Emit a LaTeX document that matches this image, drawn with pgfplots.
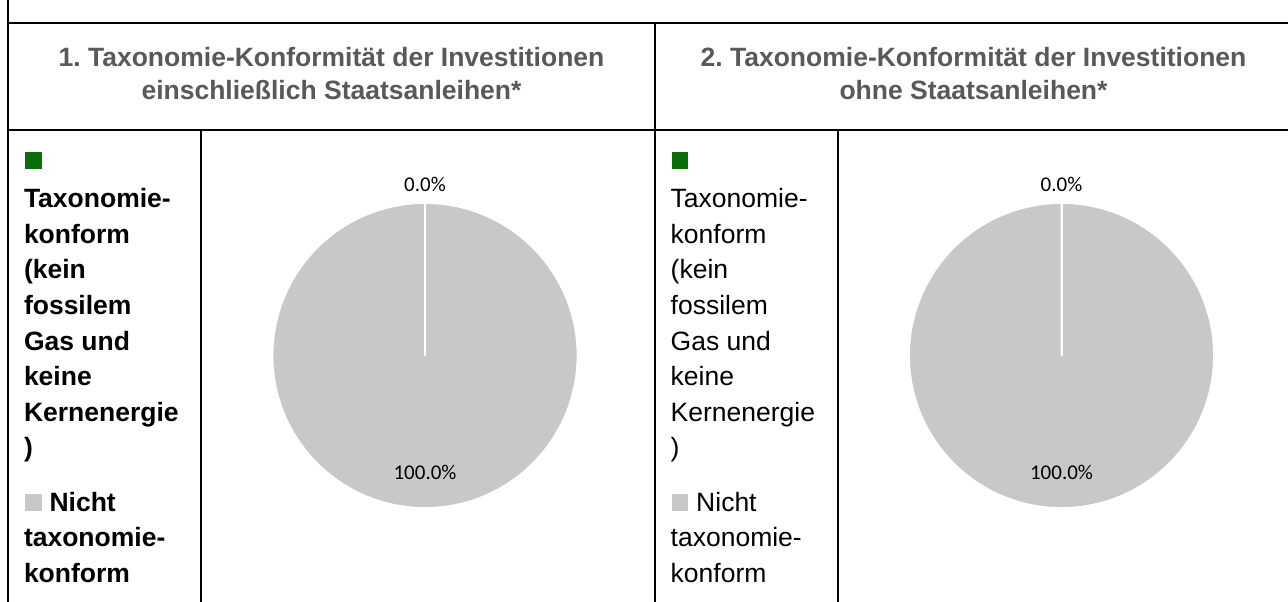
\documentclass[border=0pt]{standalone}
\usepackage{pgfplots}
\pgfplotsset{compat=1.18}
\usepackage{pgfplotstable}
\usetikzlibrary{calc}
\usepackage{fontspec}
\setmainfont{Liberation Sans}
\newfontfamily\carlito{Carlito}
\definecolor{titlegray}{HTML}{595959}
\definecolor{piegray}{HTML}{C8C8C8}
\definecolor{taxgreen}{HTML}{0B6E0B}
\frenchspacing

% shares of the two pies (percent)
\pgfplotstableread{
slice value
konform 0.0
nicht 100.0
}\pieone
\pgfplotstableread{
slice value
konform 0.0
nicht 100.0
}\pietwo
\pgfplotstablegetelem{0}{value}\of\pieone \edef\oneA{\pgfplotsretval}
\pgfplotstablegetelem{1}{value}\of\pieone \edef\oneB{\pgfplotsretval}
\pgfplotstablegetelem{0}{value}\of\pietwo \edef\twoA{\pgfplotsretval}
\pgfplotstablegetelem{1}{value}\of\pietwo \edef\twoB{\pgfplotsretval}

\def\pierad{114.45pt}
\newcommand{\pctlabel}[4]{% cx, cy, mid angle, value
  \pgfmathsetmacro\ldist{#4<5 ? 122.85 : 92.85}
  \node[anchor=base, inner sep=0, font=\carlito\fontsize{15.75pt}{18pt}\selectfont]
    at ($(axis cs:#1,#2)+(#3:\ldist pt)$)
    {\pgfmathprintnumber[assume math mode=true,fixed,fixed zerofill,precision=1]{#4}\%};
}
\newcommand{\pie}[4]{% cx, cy, value 1, value 2
  \pgfmathsetmacro\eA{90-3.6*#3}
  \pgfmathsetmacro\eB{\eA-3.6*#4}
  \pgfmathsetmacro\mA{90-1.8*#3}
  \pgfmathsetmacro\mB{\eA-1.8*#4}
  \fill[taxgreen] (axis cs:#1,#2) -- ++(90:\pierad) arc[start angle=90, end angle=\eA, radius=\pierad] -- cycle;
  \fill[piegray] (axis cs:#1,#2) -- ++(\eA:\pierad) arc[start angle=\eA, end angle=\eB, radius=\pierad] -- cycle;
  \draw[white, line width=1.5pt] (axis cs:#1,#2) -- ++(90:\pierad) arc[start angle=90, end angle=\eA, radius=\pierad] -- cycle;
  \draw[white, line width=1.5pt] (axis cs:#1,#2) -- ++(\eA:\pierad) arc[start angle=\eA, end angle=\eB, radius=\pierad] -- cycle;
  \pctlabel{#1}{#2}{\mA}{#3}
  \pctlabel{#1}{#2}{\mB}{#4}
}

\newcommand{\legsize}{\fontsize{19.875pt}{24pt}\selectfont}
\newcommand{\legendcol}[3]{% text x, square x, font
  \node[lbl] at (#2,169) {\textcolor{taxgreen}{\rule{12.4pt}{12.4pt}}};
  \node[lbl,font=\legsize#3] at (#1,208) {Taxonomie-};
  \node[lbl,font=\legsize#3] at (#1,243.5) {konform};
  \node[lbl,font=\legsize#3] at (#1,279) {(kein};
  \node[lbl,font=\legsize#3] at (#1,314.5) {fossilem};
  \node[lbl,font=\legsize#3] at (#1,350) {Gas und};
  \node[lbl,font=\legsize#3] at (#1,385.5) {keine};
  \node[lbl,font=\legsize#3] at (#1,421) {Kernenergie};
  \node[lbl,font=\legsize#3] at (#1,456.5) {)};
  \node[lbl,font=\legsize#3] at (#2,511) {\textcolor{piegray}{\rule{12.4pt}{12.4pt}}\hspace{6pt}Nicht};
  \node[lbl,font=\legsize#3] at (#1,546.5) {taxonomie-};
  \node[lbl,font=\legsize#3] at (#1,582) {konform};
}

\begin{document}
\begin{tikzpicture}[x=0.75pt, y=-0.75pt,
  lbl/.style={anchor=base west, inner sep=0, outer sep=0}]
\useasboundingbox (0,0) rectangle (1288,602);
\fill[white] (0,0) rectangle (1288,602);
\begin{scope}
\clip (0,0) rectangle (1288,602);

\begin{axis}[
  at={(0,0)}, anchor=north west,
  scale only axis, width=966pt, height=451.5pt,
  xmin=0, xmax=1288, ymin=0, ymax=602, y dir=reverse,
  hide axis, clip=false,
]
\pgfplotsextra{%
  \pie{425}{355.5}{\oneA}{\oneB}
  \pie{1061.5}{355.5}{\twoA}{\twoB}
}
\end{axis}

% table frame
\begin{scope}[line width=1.875pt, black]
  \draw (8,-5) -- (8,610);
  \draw (8,23) -- (1300,23);
  \draw (8,130) -- (1300,130);
  \draw (655,23) -- (655,610);
  \draw (201,130) -- (201,610);
  \draw (838,130) -- (838,610);
\end{scope}

% column titles
\begin{scope}[every node/.style={anchor=base, inner sep=0, text=titlegray,
    font=\fontsize{19.875pt}{24pt}\selectfont\bfseries}]
  \node at (331.5,66.7) {1. Taxonomie-Konformität der Investitionen};
  \node at (331.5,100) {einschließlich Staatsanleihen*};
  \node at (973.5,66.7) {2. Taxonomie-Konformität der Investitionen};
  \node at (973.5,100) {ohne Staatsanleihen*};
\end{scope}

\legendcol{24}{25}{\bfseries}
\legendcol{670.7}{671.7}{}
\end{scope}
\end{tikzpicture}
\end{document}
